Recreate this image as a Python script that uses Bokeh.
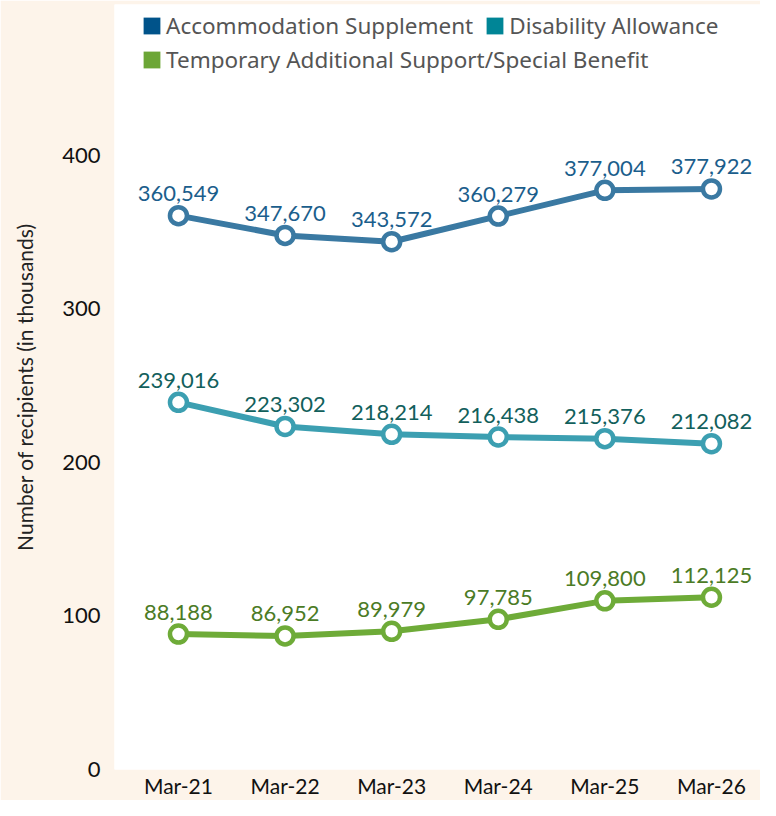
from bokeh.plotting import figure
from bokeh.models import ColumnDataSource, FixedTicker, Legend, LegendItem, Range1d
from bokeh.core.properties import value
from bokeh.embed import file_html
from bokeh.resources import INLINE

categories = ["Mar-21", "Mar-22", "Mar-23", "Mar-24", "Mar-25", "Mar-26"]
accommodation = [360549, 347670, 343572, 360279, 377004, 377922]
disability = [239016, 223302, 218214, 216438, 215376, 212082]
temporary = [88188, 86952, 89979, 97785, 109800, 112125]
y_ticks = [0, 100, 200, 300, 400]

series_names = ["Accommodation Supplement", "Disability Allowance",
                "Temporary Additional Support/Special Benefit"]
line_colors = ["#3a79a2", "#3c9fb1", "#6eab38"]
label_colors = ["#1b5e8c", "#12605c", "#4b7b25"]
legend_colors = ["#00538a", "#008596", "#6ca636"]

CREAM = "#fdf4ea"
FRAME_H = 766

p = figure(width=760, height=800, output_backend="svg", toolbar_location=None,
           x_range=Range1d(-0.6, 5.46), y_range=Range1d(0, 498),
           min_border_left=114, min_border_right=0, min_border_top=4,
           min_border_bottom=30)
p.border_fill_color = CREAM
p.background_fill_color = "white"
p.outline_line_color = None
p.grid.visible = False

xs = list(range(len(categories)))
nan = float("nan")
legend_renderers = []
for name, vals, lc, tc, gc in zip(series_names, [accommodation, disability, temporary],
                                  line_colors, label_colors, legend_colors):
    src = ColumnDataSource(dict(x=xs, y=[v / 1000 for v in vals],
                                label=[f"{v:,}" for v in vals]))
    p.line("x", "y", source=src, line_color=lc, line_width=6)
    p.scatter("x", "y", source=src, marker="circle", size=17, fill_color="white",
              line_color=lc, line_width=4.5)
    p.text("x", "y", text="label", source=src, text_align="center",
           text_baseline="alphabetic", y_offset=-22, text_font=value("Lato"),
           text_font_size="22px", text_color=tc)
    q = p.quad(left=[nan], right=[nan], top=[nan], bottom=[nan],
               fill_color=gc, line_color=None)
    legend_renderers.append(q)

def make_legend(items, vy):
    return Legend(items=items, location=(27, vy), orientation="horizontal",
                  padding=0, margin=0, spacing=11, glyph_width=21, glyph_height=21,
                  label_height=21, label_standoff=4, border_line_color=None,
                  background_fill_alpha=0, label_text_font="Noto Sans",
                  label_text_font_size="22.5px", label_text_color="#555555")

leg1 = make_legend([LegendItem(label=series_names[0], renderers=[legend_renderers[0]]),
                    LegendItem(label=series_names[1], renderers=[legend_renderers[1]])],
                   FRAME_H - 38)
leg2 = make_legend([LegendItem(label=series_names[2], renderers=[legend_renderers[2]])],
                   FRAME_H - 72)
p.add_layout(leg1, "center")
p.add_layout(leg2, "center")

p.xaxis.ticker = FixedTicker(ticks=xs)
p.xaxis.major_label_overrides = {i: c for i, c in enumerate(categories)}
p.yaxis.ticker = FixedTicker(ticks=y_ticks)
for ax in (p.xaxis, p.yaxis):
    ax.axis_line_color = None
    ax.major_tick_line_color = None
    ax.minor_tick_line_color = None
    ax.major_tick_in = 0
    ax.major_tick_out = 0
    ax.major_label_text_font = "Lato"
    ax.major_label_text_font_size = "21px"
    ax.major_label_text_color = "#111111"
p.xaxis.major_label_standoff = 3
p.yaxis.major_label_standoff = 14
p.yaxis.major_label_text_font_size = "22px"
p.yaxis.axis_label = "Number of recipients (in thousands)"
p.yaxis.axis_label_text_font = "Lato"
p.yaxis.axis_label_text_font_size = "21px"
p.yaxis.axis_label_text_font_style = "normal"
p.yaxis.axis_label_text_color = "#222222"
p.yaxis.axis_label_standoff = 22

open("out.html", "w").write(file_html(p, INLINE))
